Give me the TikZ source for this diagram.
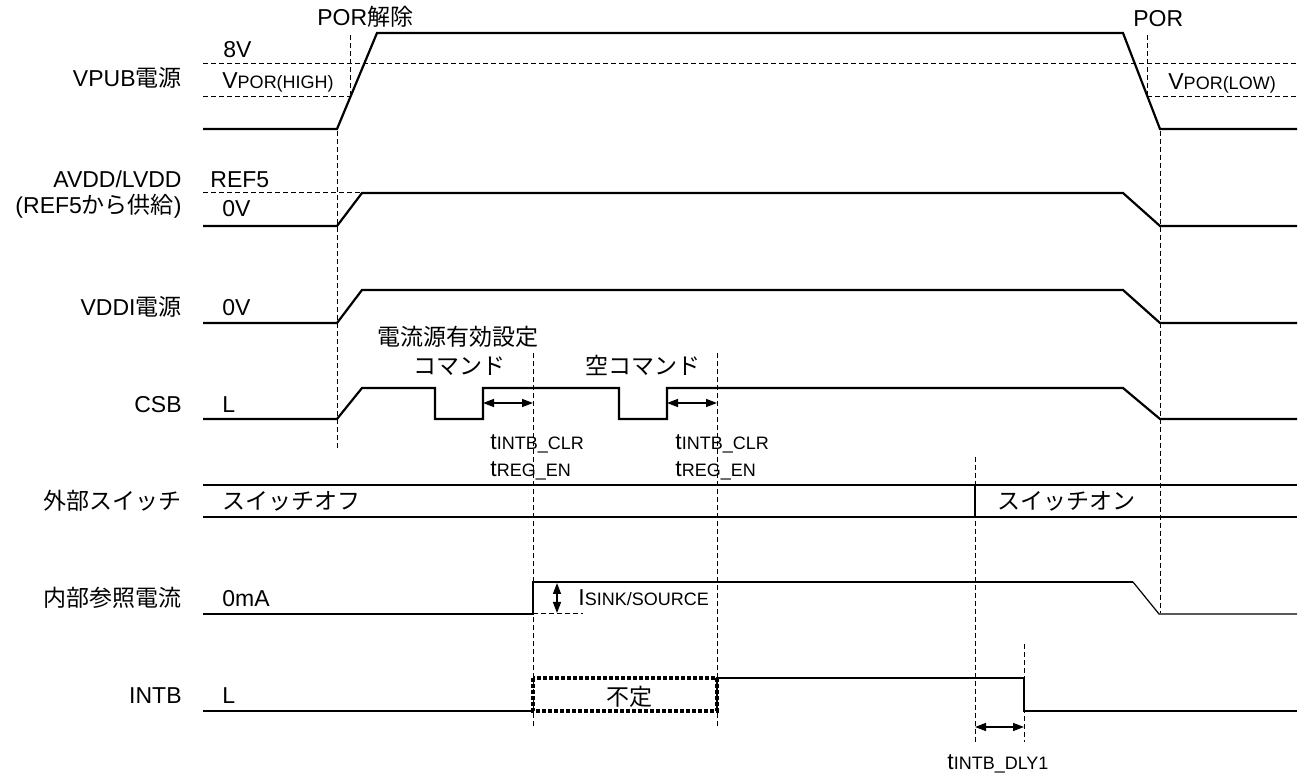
\documentclass[tikz,border=0pt]{standalone}
\usepackage{fontspec}
\setmainfont{Liberation Sans}
\newfontfamily\jpfont{Noto Sans CJK JP}
\usetikzlibrary{arrows.meta,positioning}
\newcommand{\jtxt}[1]{{\jpfont #1}}
\newcommand{\smallsub}[1]{{\fontsize{9}{10}\selectfont #1}}

\begin{document}
\begin{tikzpicture}
	[   x=0.5pt,y=-0.5pt,
		font=\fontsize{11.5}{13}\selectfont,
		sig/.style={draw=black,line width=1.1pt},
		thinsig/.style={draw=black,line width=0.6pt},
		guide/.style={draw=black,line width=0.5pt,dash pattern=on 2.5pt off 1.5pt},
		unknown/.style={draw=black,line width=1.6pt,dash pattern=on 1.8pt off 1.2pt},
		lbl/.style={anchor=base east,inner sep=0pt},
		val/.style={anchor=base west,inner sep=0pt},
	]
	\tikzset{normal arrow/.style={draw,line width=0.7pt,{Triangle[length=5.5pt,width=4pt]}-{Triangle[length=5.5pt,width=4pt]}}}
	\useasboundingbox (0,0) rectangle (1303,774);
	
	% signal names
	\foreach \y/\n/\t in {87/vpub/{VPUB\jtxt{電源}},188/avdd/{AVDD/LVDD},214/ref/{(REF5\jtxt{から供給})},
		316/vddi/{VDDI\jtxt{電源}},413/csb/{CSB},510/sw/{\jtxt{外部スイッチ}},607/iref/{\jtxt{内部参照電流}},704/intb/{INTB}}
	{
		\node[lbl] (name-\n) at (182,\y) {\t};
	}
	
	% levels
	\node[val] (v-8v) at (223,58) {8V};
	\node[val] (v-porh) at (222,89) {V\smallsub{POR(HIGH)}};
	\node[val] (v-porl) at (1168,90) {V\smallsub{POR(LOW)}};
	\node[val] (v-ref5) at (210,188) {REF5};
	\node[val] (v-avdd) at (222,217) {0V};
	\node[val] (v-vddi) at (222,316) {0V};
	\node[val] (v-csb) at (222,413) {L};
	\node[val] (v-swoff) at (222,510) {\jtxt{スイッチオフ}};
	\node[val] (v-swon) at (997,510) {\jtxt{スイッチオン}};
	\node[val] (v-iref) at (222,607) {0mA};
	\node[val] (v-intb) at (222,704) {L};
	
	% events
	\node[val] (ev-porclr) at (317,26) {POR\jtxt{解除}};
	\node[val] (ev-por) at (1133,27) {POR};
	\node[anchor=base,inner sep=0pt] (ev-cmd1) at (458,346) {\jtxt{電流源有効設定}};
	\node[anchor=base,inner sep=0pt] (ev-cmd1b) at (459,375) {\jtxt{コマンド}};
	\node[anchor=base,inner sep=0pt] (ev-cmd2) at (643,375) {\jtxt{空コマンド}};
	
	% VPUB
	\draw[guide] (203,64) -- (1297,64);
	\draw[guide] (203,97) -- (350,97) (1147,97) -- (1297,97);
	\draw[guide] (350,35) -- (350,97) (1147,35) -- (1147,97);
	\draw[sig] (203,129) -- (337,129) -- (377,33) -- (1123,33) -- (1160,129) -- (1297,129);
	
	% AVDD/LVDD, VDDI
	\draw[guide] (203,193) -- (362,193);
	\draw[sig] (203,226) -- (337,226) -- (362,193) -- (1123,193) -- (1160,226) -- (1297,226);
	\draw[sig] (203,323) -- (337,323) -- (362,290) -- (1123,290) -- (1160,323) -- (1297,323);
	
	% CSB
	\draw[sig] (203,419) -- (337,419) -- (362,388) -- (435,388) -- (435,419) -- (483,419) -- (483,388)
		-- (619,388) -- (619,419) -- (667,419) -- (667,388) -- (1123,388) -- (1160,419) -- (1297,419);
	
	% switch
	\draw[sig] (203,485) -- (1297,485) (203,517) -- (1297,517) (975,485) -- (975,517);
	
	% reference current
	\draw[sig] (203,614) -- (533,614) -- (533,582) -- (1133,582);
	\draw[thinsig] (1133,582) -- (1159,614) -- (1297,614);
	\draw[guide] (533,614) -- (583,614);
	
	% INTB
	\draw[sig] (203,711) -- (533,711);
	\draw[unknown] (533,678) rectangle (717,711);
	\node (ev-unknown) at (629,697) {\jtxt{不定}};
	\draw[sig] (717,711) -- (717,678) -- (1024,678) -- (1024,711) -- (1297,711);
	
	% time markers
	\foreach \x/\a/\b in {337/131/448,1160/131/613,533/353/727,717/353/727,975/457/742,1024/644/742}
	{
		\draw[guide] (\x,\a) -- (\x,\b);
	}
	
	% timings
	\coordinate (clr1-a) at (483,403);
	\coordinate (clr1-b) at (533,403);
	\coordinate (clr2-a) at (667,403);
	\coordinate (clr2-b) at (717,403);
	\coordinate (dly-a) at (975,727);
	\coordinate (dly-b) at (1024,727);
	\coordinate (isink-a) at (557,583);
	\coordinate (isink-b) at (557,613);
	\path[normal arrow] (clr1-a) -- (clr1-b);
	\path[normal arrow] (clr2-a) -- (clr2-b);
	\path[normal arrow] (dly-a) -- (dly-b);
	\path[normal arrow] (isink-a) -- (isink-b);
	
	\node[val] (t-clr1) at (490,450) {t\smallsub{INTB\_CLR}};
	\node[val] (t-reg1) at (490,477) {t\smallsub{REG\_EN}};
	\node[val] (t-clr2) at (675,450) {t\smallsub{INTB\_CLR}};
	\node[val] (t-reg2) at (675,477) {t\smallsub{REG\_EN}};
	\node[val] (t-isink) at (578,606) {I\smallsub{SINK/SOURCE}};
	\node[val] (t-dly) at (947,770) {t\smallsub{INTB\_DLY1}};
\end{tikzpicture}
\end{document}
